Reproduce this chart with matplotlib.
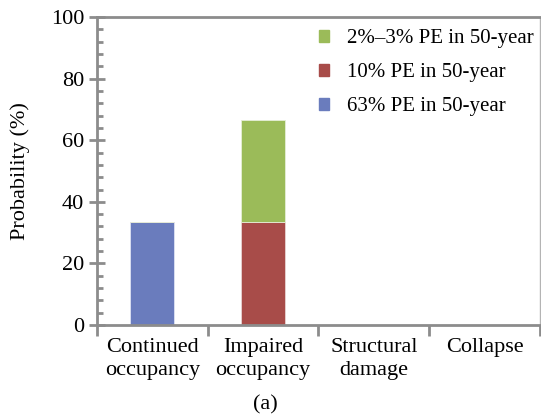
import matplotlib
matplotlib.use("Agg")
import matplotlib.pyplot as plt
import numpy as np
from matplotlib.patches import Patch

plt.rcParams['font.family'] = ['Liberation Serif', 'DejaVu Serif']

# stacked probabilities per performance level (%)
levels = ['Continued\noccupancy', 'Impaired\noccupancy', 'Structural\ndamage', 'Collapse']
pe63 = [33.3, 0, 0, 0]
pe10 = [0, 33.3, 0, 0]
pe2_3 = [0, 33.3, 0, 0]

c_blue = '#6a7cbd'
c_red = '#a84c49'
c_green = '#9bbb59'
axis_grey = '#8c8c8c'
fs = 16

fig = plt.figure(figsize=(5.41, 4.17), dpi=100)
ax = fig.add_axes([0.179, 0.2206, 0.819, 0.7385])

x = np.arange(len(levels))
w = 0.4
ax.bar(x, pe63, w, color=c_blue, edgecolor='#dfe3f3', linewidth=0.6)
ax.bar(x, pe10, w, bottom=pe63, color=c_red, edgecolor='#e8d4d3', linewidth=0.6)
base = np.array(pe63) + np.array(pe10)
ax.bar(x, pe2_3, w, bottom=base, color=c_green, edgecolor='#e6eed8', linewidth=0.6)

ax.set_xlim(-0.5, 3.5)
ax.set_ylim(0, 100)

ax.set_xticks(x)
ax.set_xticklabels(levels, fontsize=fs, linespacing=1.35)
ax.tick_params(axis='x', which='major', length=0, pad=9)
ax.set_xticks(np.arange(-0.5, 4.0, 1.0), minor=True)
ax.tick_params(axis='x', which='minor', direction='out', length=8, width=2, color=axis_grey)

ax.set_yticks(np.arange(0, 101, 20))
ax.set_yticks(np.arange(0, 101, 4), minor=True)
ax.tick_params(axis='y', which='major', direction='inout', length=12, width=2,
               color=axis_grey, labelsize=fs, pad=3)
ax.tick_params(axis='y', which='minor', direction='in', length=4, width=2, color=axis_grey)

for side in ['left', 'bottom', 'top']:
    ax.spines[side].set_color(axis_grey)
    ax.spines[side].set_linewidth(2)
ax.spines['right'].set_color('#b4b4b4')
ax.spines['right'].set_linewidth(1)

ax.set_ylabel('Probability (%)', fontsize=fs, labelpad=15)

handles = [Patch(color=c_green), Patch(color=c_red), Patch(color=c_blue)]
labels = ['2%\u20133% PE in 50-year', '10% PE in 50-year', '63% PE in 50-year']
ax.legend(handles, labels, loc='upper right', frameon=False, fontsize=15,
          handlelength=0.5, handleheight=0.5, handletextpad=0.85,
          labelspacing=0.72, borderaxespad=0.0, bbox_to_anchor=(1.005, 0.987))

fig.text(0.49, 0.018, '(a)', ha='center', fontsize=fs)

fig.savefig('out.png', dpi=100)
